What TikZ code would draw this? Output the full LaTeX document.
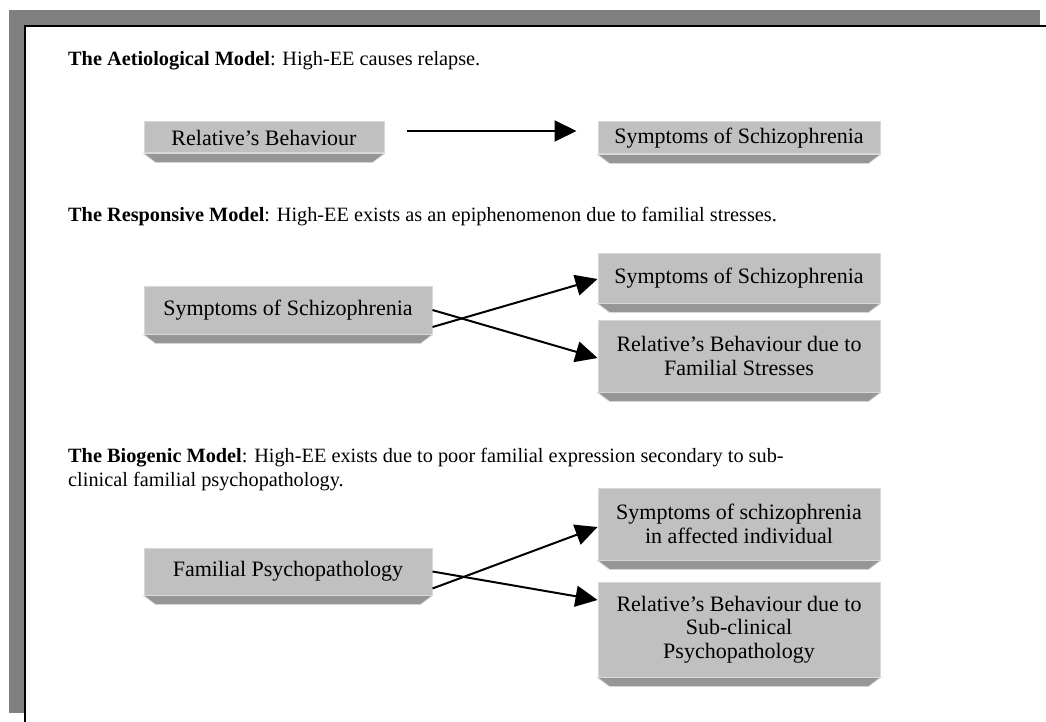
\documentclass[tikz,border=0pt]{standalone}
\usepackage{fontspec}
\setmainfont{Liberation Serif}
\usetikzlibrary{arrows.meta}
\definecolor{framegray}{HTML}{808080}
\definecolor{face}{HTML}{C0C0C0}
\definecolor{faceline}{HTML}{D8D8D8}
\definecolor{shade}{HTML}{969696}
\newcommand\mybox[6]{%
  \node[box, minimum width={#4-#2}, minimum height={#5-#3}] (#1) at ({(#2+#4)/2},{(#3+#5)/2}) {#6};
  \filldraw[fill=shade, draw=faceline, line width=0.8pt] (#1.south west) -- (#1.south east) -- ([xshift=-12pt,yshift=-9pt]#1.south east) -- ([xshift=12pt,yshift=-9pt]#1.south west) -- cycle;}
\begin{document}
\begin{tikzpicture}[x=1pt,y=-1pt,
  box/.style={draw=faceline, line width=1pt, fill=face, inner sep=0pt, align=center, font=\fontsize{22}{23.5}\selectfont},
  hdr/.style={anchor=base west, inner sep=0pt, font=\fontsize{20.3}{23}\selectfont},
  arr/.style={line width=2pt, -{Triangle[length=22pt,width=21pt]}}]
\useasboundingbox (0,0) rectangle (1046,722);
\fill[framegray] (9,10) rectangle (1040,713);
\fill[white] (25,26) rectangle (1046,722);
\draw[line width=2.5pt] (1046,26) -- (25,26) -- (25,722);

\node[hdr] (h1) at (68,66) {\textbf{The Aetiological Model}: High-EE causes relapse.};
\node[hdr] (h2) at (68,222) {\textbf{The Responsive Model}: High-EE exists as an epiphenomenon due to familial stresses.};
\node[hdr] (h3) at (68,462) {\textbf{The Biogenic Model}: High-EE exists due to poor familial expression secondary to sub-};
\node[hdr] (h3b) at (68,486) {clinical familial psychopathology.};

\mybox{r1}{144}{122}{384}{153}{Relative’s Behaviour}
\mybox{s1}{598}{122}{880}{154}{Symptoms of Schizophrenia}

\mybox{rl}{144}{286}{432}{334}{Symptoms of Schizophrenia}
\mybox{rt}{598}{253}{880}{303}{Symptoms of Schizophrenia}
\mybox{rb}{598}{320}{880}{392}{Relative’s Behaviour due to\\Familial Stresses}

\mybox{bl}{144}{548}{432}{595}{Familial Psychopathology}
\mybox{bt}{598}{488}{880}{560}{Symptoms of schizophrenia\\in affected individual}
\mybox{bb}{598}{582}{880}{677}{Relative’s Behaviour due to\\Sub-clinical\\Psychopathology}

\draw[arr, shorten <=22pt, shorten >=21pt] ([yshift=6.5pt]r1.east) -- ([yshift=7pt]s1.west);
\draw[arr] ([yshift=-17pt]rl.east) -- ([yshift=-1pt]rt.west);
\draw[arr] (rl.east) -- ([yshift=-2pt]rb.west);
\draw[arr] ([yshift=-17pt]bl.east) -- ([yshift=-3pt]bt.west);
\draw[arr] (bl.east) -- ([yshift=29.5pt]bb.west);
\end{tikzpicture}
\end{document}
